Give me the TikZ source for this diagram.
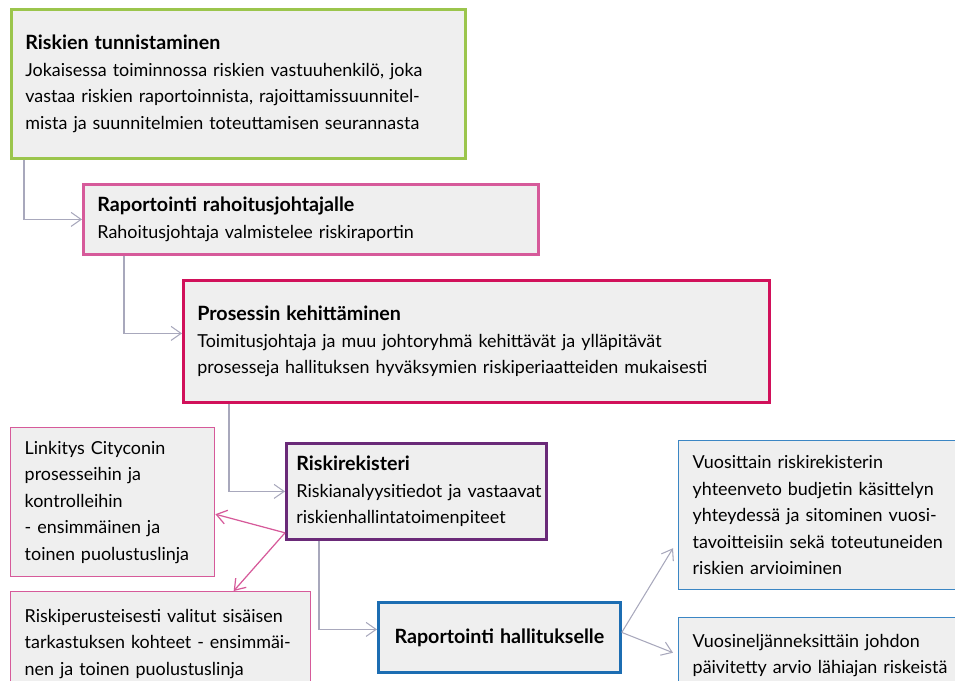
\documentclass[tikz,border=0pt]{standalone}
\usepackage{fontspec}
\setmainfont{Lato}
\usetikzlibrary{calc,arrows.meta}
\definecolor{boxfill}{HTML}{EFEFEF}
\definecolor{limegreen}{HTML}{9BC54C}
\definecolor{rosepink}{HTML}{D65A9A}
\definecolor{crimson}{HTML}{D1105A}
\definecolor{plum}{HTML}{6A2A78}
\definecolor{deepblue}{HTML}{1C6DB2}
\definecolor{skyblue}{HTML}{3B86C4}
\definecolor{linegray}{HTML}{A8A8BC}
\newcommand{\boxtitle}[1]{{\fontsize{11.2pt}{15.1pt}\selectfont\bfseries #1}}
\tikzset{
	>={Straight Barb[length=2mm,width=2.8mm]},
	punkt/.style={
		rectangle,
		fill=boxfill,
		anchor=north west,
		inner xsep=0.28cm,
		inner ysep=0pt,
		align=left,
		font=\fontsize{10.2pt}{15.1pt}\selectfont
	},
	thickbox/.style={punkt, line width=1.6pt},
	thinbox/.style={punkt, line width=0.8pt},
	conn/.style={draw=linegray, line width=0.6pt},
	pinkconn/.style={draw=rosepink, line width=0.7pt}
}

\begin{document}
\begin{tikzpicture}[x=0.02cm, y=-0.02cm]
		\useasboundingbox (0,0) rectangle (955,680);
		\clip (0,0) rectangle (955,680);

		\node [thickbox, draw=limegreen, text width=8.52cm, minimum height=2.98cm] (identify) at (10,8)
			{\boxtitle{Riskien tunnistaminen}\\Jokaisessa toiminnossa riskien vastuuhenkilö, joka\\vastaa riskien raportoinnista, rajoittamissuunnitel-\\mista ja suunnitelmien toteuttamisen seurannasta};
		\node [thickbox, draw=rosepink, text width=8.54cm, minimum height=1.40cm] (cfo) at (82,183)
			{\boxtitle{Raportointi rahoitusjohtajalle}\\Rahoitusjohtaja valmistelee riskiraportin};
		\node [thickbox, draw=crimson, text width=11.16cm, minimum height=2.44cm] (process) at (182,279)
			{\boxtitle{Prosessin kehittäminen}\\Toimitusjohtaja ja muu johtoryhmä kehittävät ja ylläpitävät\\prosesseja hallituksen hyväksymien riskiperiaatteiden mukaisesti};
		\node [thickbox, draw=plum, inner xsep=0.2cm, text width=4.8cm, minimum height=1.92cm] (register) at (285,442)
			{\boxtitle{Riskirekisteri}\\\mbox{Riskianalyysitiedot ja vastaavat}\\riskienhallintatoimenpiteet};
		\node [thinbox, draw=rosepink, text width=3.52cm, minimum height=2.98cm] (linking) at (10,427)
			{Linkitys Cityconin\\prosesseihin ja\\kontrolleihin\\- ensimmäinen ja\\toinen puolustuslinja};
		\node [thinbox, draw=rosepink, text width=5.44cm, minimum height=2.08cm] (audit) at (10,591)
			{Riskiperusteisesti valitut sisäisen\\tarkastuksen kohteet - ensimmäi-\\nen ja toinen puolustuslinja};
		\node [thickbox, draw=deepblue, text width=4.28cm, minimum height=1.40cm, align=center] (board) at (377,601)
			{\boxtitle{Raportointi hallitukselle}};
		\node [thinbox, draw=skyblue, text width=5.18cm, minimum height=2.98cm] (annual) at (678,440)
			{Vuosittain riskirekisterin\\yhteenveto budjetin käsittelyn\\yhteydessä ja sitominen vuosi-\\tavoitteisiin sekä toteutuneiden\\riskien arvioiminen};
		\node [thinbox, draw=skyblue, text width=5.18cm, minimum height=1.52cm] (quarter) at (678,617)
			{Vuosineljänneksittäin johdon\\päivitetty arvio lähiajan riskeistä};

		% main chain
		\draw [conn, ->] ([xshift=0.28cm]identify.south west) |- (cfo.west);
		\draw [conn, ->] ([xshift=0.84cm]cfo.south west) |- ([yshift=0.16cm]process.west);
		\draw [conn, ->] ([xshift=0.94cm]process.south west) |- (register.west);
		\draw [conn, ->] ([xshift=0.68cm]register.south west) |- ([yshift=0.16cm]board.west);

		\draw [pinkconn, ->] ([yshift=0.16cm]register.south west) -- ([yshift=-0.24cm]linking.east);
		\draw [pinkconn, ->] ([yshift=0.16cm]register.south west) -- ([xshift=1.46cm]audit.north);

		\draw [conn, ->] ([yshift=0.1cm]board.east) -- ([xshift=-0.1cm, yshift=-0.66cm]annual.west);
		\draw [conn, ->] ([yshift=0.1cm]board.east) -- ([xshift=-0.1cm, yshift=0.06cm]quarter.west);
	\end{tikzpicture}
\end{document}
